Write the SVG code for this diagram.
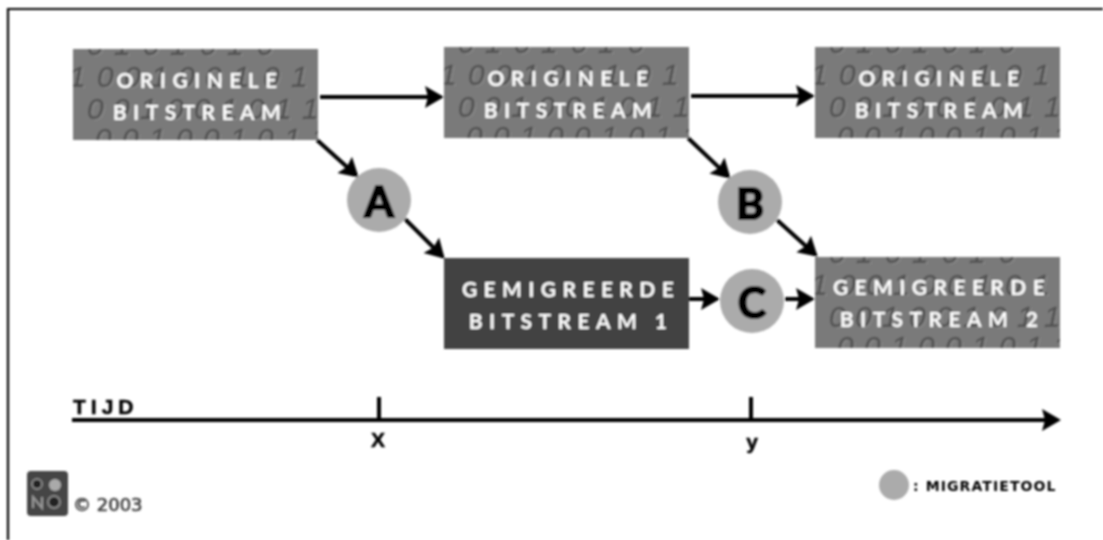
<svg xmlns="http://www.w3.org/2000/svg" width="1103" height="540" viewBox="0 0 1103 540">
<style>
.box{fill:url(#bits)}
.dark{fill:#434343}
.lab{font:700 21px "Lato","Liberation Sans",sans-serif;fill:#fff;text-anchor:middle;letter-spacing:6.4px}
.bit{font:italic 30px "Liberation Sans",sans-serif;fill:#525252;stroke:#525252;stroke-width:.5}
.hi{font:italic 30px "Liberation Sans",sans-serif;fill:#8c8c8c}
.tool{fill:#ababab}
.let{font:700 42px "Lato","Liberation Sans",sans-serif;fill:#000;stroke:#000;stroke-width:2.2;text-anchor:middle}
.ln{stroke:#000;stroke-width:4;fill:none;marker-end:url(#ah)}
.ax{stroke:#000;stroke-width:4;fill:none}
.t{font:700 21px "Liberation Sans",sans-serif;fill:#000;stroke:#000;stroke-width:.5}
.s{font:700 14px "DejaVu Sans",sans-serif;fill:#000;letter-spacing:1.1px}
</style>
<defs>
<filter id="soft" x="-5%" y="-5%" width="110%" height="110%"><feGaussianBlur stdDeviation="0.9"/></filter>
<marker id="ah" markerUnits="userSpaceOnUse" markerWidth="20" markerHeight="24" refX="16" refY="12" orient="auto"><path d="M0 1L19 12L0 23L3 12z" fill="#000"/></marker>
<pattern id="bits" width="1" height="1">
<rect width="246" height="92" fill="#7a7a7a"/>
<g transform="translate(1.5 1)">
<text class="hi" x="14 41 70 97 127 154 184" y="6">0101010</text>
<text class="hi" x="-4 24 51 78 105 132 160 190 218" y="38">100100101</text>
<text class="hi" x="14 40 67 94 121 148 175 202 229" y="70">001001011</text>
<text class="hi" x="22 49 76 103 130 157 184 211 238" y="100">001001011</text>
</g>
<text class="bit" x="14 41 70 97 127 154 184" y="6">0101010</text>
<text class="bit" x="-4 24 51 78 105 132 160 190 218" y="38">100100101</text>
<text class="bit" x="14 40 67 94 121 148 175 202 229" y="70">001001011</text>
<text class="bit" x="22 49 76 103 130 157 184 211 238" y="100">001001011</text>
</pattern>
</defs>
<rect width="1103" height="540" fill="#fff"/>
<g filter="url(#soft)">
<path d="M1103 9H8V540" fill="none" stroke="#000" stroke-width="2.2"/>
<g id="connectors">
<path class="ln" d="M320 97H441"/>
<path class="ln" d="M691 96H812"/>
<path class="ln" d="M317 140L356.5 175.6"/>
<path class="ln" d="M405 219L442.6 256.6"/>
<path class="ln" d="M688 138L728.5 176.6"/>
<path class="ln" d="M777 220L815.5 254.7"/>
<path class="ln" d="M689 299H717"/>
<path class="ln" d="M785 299H812"/>
<path class="ln" d="M72 420H1058"/>
<path class="ax" d="M379 397V420M751 397V420"/>
</g>
<g id="n1"><rect class="box" x="73" y="49" width="245" height="91"/><text class="lab" x="200" y="88">ORIGINELE</text><text class="lab" x="200" y="120">BITSTREAM</text></g>
<g id="n2"><rect class="box" x="444" y="47" width="245" height="91"/><text class="lab" x="571" y="86">ORIGINELE</text><text class="lab" x="571" y="118">BITSTREAM</text></g>
<g id="n3"><rect class="box" x="815" y="47" width="245" height="91"/><text class="lab" x="942" y="86">ORIGINELE</text><text class="lab" x="942" y="118">BITSTREAM</text></g>
<g id="n4"><rect class="dark" x="444" y="258" width="245" height="91"/><text class="lab" x="571" y="297">GEMIGREERDE</text><text class="lab" x="571" y="329">BITSTREAM 1</text></g>
<g id="n5"><rect class="box" x="815" y="257" width="245" height="91"/><text class="lab" x="942" y="295">GEMIGREERDE</text><text class="lab" x="942" y="327">BITSTREAM 2</text></g>
<g id="a"><circle class="tool" cx="379" cy="200" r="32"/><text class="let" x="379" y="217">A</text></g>
<g id="b"><circle class="tool" cx="750" cy="202" r="32"/><text class="let" x="750" y="219">B</text></g>
<g id="c"><circle class="tool" cx="752" cy="301" r="32"/><text class="let" x="752" y="318">C</text></g>
<g id="time">
<text class="t" x="73" y="414" letter-spacing="5">TIJD</text>
<text class="t" x="378" y="447" text-anchor="middle">X</text>
<text class="t" x="752" y="449" text-anchor="middle">y</text>
</g>
<g id="logo">
<rect x="27" y="471" width="41" height="45" rx="4" fill="#444"/>
<circle cx="37" cy="484" r="5" fill="#222" stroke="#888" stroke-width="2"/>
<circle cx="55" cy="485" r="6" fill="#aaa"/>
<circle cx="54" cy="502" r="6" fill="#222" stroke="#888" stroke-width="2"/>
<path d="M33 508V497L42 508V497" fill="none" stroke="#999" stroke-width="2"/>
<text x="73" y="511" font-family="DejaVu Sans,sans-serif" font-size="18" fill="#444" stroke="#444" stroke-width=".7">© 2003</text>
</g>
<g id="legend">
<circle class="tool" cx="894" cy="485" r="15"/>
<text class="s" x="913" y="491">: MIGRATIETOOL</text>
</g>
</g>
</svg>
